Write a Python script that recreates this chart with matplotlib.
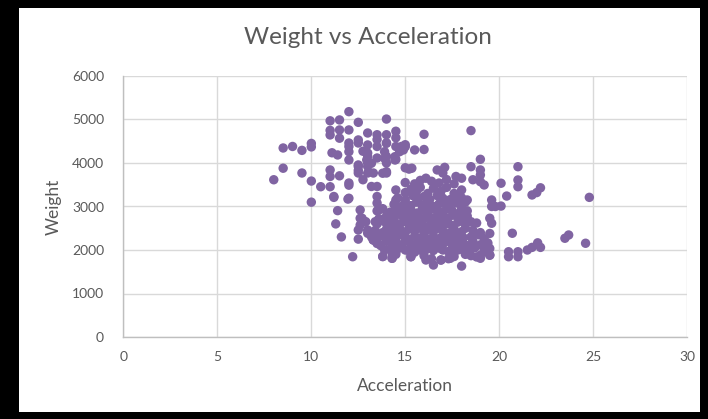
import matplotlib
matplotlib.use("Agg")
import matplotlib.pyplot as plt
from matplotlib.patches import Rectangle

# Outer / sparse points (acceleration, weight)
acc_outer = [8.0, 8.5, 8.5, 9.0, 9.5, 9.5, 10.0, 10.0, 10.0, 10.0, 10.5,
             11.0, 11.0, 11.0, 11.0, 11.0, 11.0, 11.1, 11.4, 11.2, 11.5, 11.5, 11.5, 11.5,
             11.4, 11.3, 11.6, 12.0, 12.0, 12.0, 12.0, 12.0, 12.0, 12.0, 12.0, 12.0, 12.2,
             12.5, 12.5, 12.5, 12.5, 12.5, 12.5, 12.6, 12.6, 12.5, 12.5, 12.75, 12.75,
             13.0, 13.0, 13.0, 13.0, 13.0, 13.0, 13.0, 13.2, 13.3, 12.9, 13.4, 13.0, 13.3,
             13.5, 13.5, 13.5, 13.5, 13.5, 13.5, 13.5, 13.6, 14.0, 14.0, 14.0, 14.0, 14.0,
             14.0, 13.8, 14.0, 14.3, 14.3, 14.5, 14.5, 14.5, 14.5, 14.5, 14.5, 14.8, 15.0,
             15.0, 15.2, 15.35, 15.5, 16.0, 16.0, 18.5, 18.5, 19.0, 16.7, 17.1, 17.0, 17.7,
             18.0, 18.6, 19.0, 19.0, 19.0, 19.2, 20.1, 20.4, 21.0, 21.0, 21.0, 21.75, 22.0,
             22.2, 24.8, 19.6, 19.6, 19.8, 20.1, 19.5, 19.6, 19.5, 20.7, 20.5, 20.5, 21.0,
             21.0, 21.5, 21.75, 22.05, 22.2, 23.5, 23.7, 24.6, 19.4, 19.5, 19.0, 18.0, 16.5,
             16.1, 16.9, 17.4, 15.3, 12.7, 12.6, 12.85, 13.2, 13.0, 13.9, 13.9, 14.45, 14.45,
             14.7, 14.9, 15.0, 13.8, 12.95, 13.2, 12.5, 11.95, 11.2, 14.0, 14.0]
w_outer = [3615, 3880, 4345, 4380, 4290, 3770, 4450, 4370, 3585, 3100, 3455,
           4970, 4750, 4645, 3840, 3690, 3455, 4235, 4185, 3230, 4990, 4760, 4570, 3705,
           2905, 2600, 2300, 5180, 4760, 4460, 4380, 4260, 4070, 3540, 3490, 3190, 1845,
           4935, 4530, 4460, 3920, 3830, 3770, 2920, 2730, 2460, 2250, 3615, 4270,
           4690, 4415, 4230, 4150, 4000, 3920, 3770, 3460, 3770, 2650, 2650, 2460, 2230,
           4650, 4540, 4380, 4115, 3460, 3230, 3080, 2920, 5010, 4650, 4460, 4150, 4000,
           3770, 1850, 2230, 1920, 1810, 4730, 4580, 4380, 4080, 3380, 3150, 4380, 4420,
           3890, 3860, 3880, 4300, 4310, 4660, 4745, 3915, 4085, 3840, 3900, 3770, 3690,
           3650, 3615, 3840, 3725, 3570, 3495, 3535, 3240, 3915, 3610, 3455, 3265, 3320,
           3430, 3210, 3150, 3000, 3000, 3010, 2730, 2615, 2380, 2385, 1960, 1845, 1960,
           1845, 2000, 2060, 2165, 2060, 2270, 2345, 2155, 2075, 1885, 1810, 1630, 1655,
           1770, 1770, 1810, 1846, 2730, 2575, 2650, 2305, 2385, 4260, 4105, 4145, 4070,
           4260, 4300, 4375, 3765, 4070, 3995, 3955, 3170, 3210, 3800, 4455]

# Dense core points (acceleration, weight)
acc_core = [13.8, 14.3, 14.5, 15.3, 15.5, 16.0, 16.4, 16.9, 17.3, 17.6, 18.2, 18.5, 18.8, 19.0, 19.5,
            13.9, 14.2, 14.5, 14.7, 15.0, 15.2, 15.5, 15.8, 16.0, 16.2, 16.5, 16.8, 17.0, 17.3, 17.5, 17.8, 18.0, 18.4, 18.7, 19.2, 19.5,
            13.5, 13.7, 14.0, 14.3, 14.5, 14.8, 15.0, 15.3, 15.5, 15.7, 16.0, 16.2, 16.5, 16.7, 17.0, 17.2, 17.5, 17.7, 18.0, 18.3, 18.6, 19.0, 19.4,
            13.3, 13.6, 14.0, 14.2, 14.5, 14.7, 15.0, 15.2, 15.5, 15.8, 16.0, 16.3, 16.5, 16.8, 17.0, 17.3, 17.6, 17.8, 18.1, 18.5, 18.9, 19.2,
            13.4, 13.8, 14.0, 14.3, 14.5, 14.8, 15.0, 15.2, 15.5, 15.7, 16.0, 16.2, 16.5, 16.8, 17.0, 17.4, 17.6, 18.0, 18.2, 18.6, 19.0,
            13.5, 13.9, 14.2, 14.5, 14.7, 15.0, 15.3, 15.5, 15.8, 16.0, 16.4, 16.6, 16.9, 17.2, 17.5, 17.8, 18.2, 18.5, 18.8,
            13.6, 14.0, 14.3, 14.5, 14.9, 15.1, 15.4, 15.7, 16.0, 16.2, 16.5, 16.8, 17.0, 17.3, 17.6, 18.0, 18.3,
            13.5, 13.8, 14.2, 14.5, 14.8, 15.0, 15.3, 15.6, 15.9, 16.1, 16.4, 16.7, 17.0, 17.2, 17.5, 17.9, 18.0, 18.3,
            14.4, 14.8, 15.0, 15.3, 15.6, 15.9, 16.2, 16.5, 16.8, 17.0, 17.3, 17.7, 18.0, 18.2,
            14.6, 15.0, 15.4, 15.7, 16.0, 16.3, 16.7, 17.0, 17.4, 17.8, 18.0, 18.3,
            15.0, 15.3, 15.6, 15.8, 16.2, 16.5, 16.9, 17.2, 17.6, 18.0,
            15.0, 15.5, 15.8, 16.1, 16.4, 16.8, 17.2, 17.6]
w_core = [1850, 1810, 1900, 1846, 1950, 1870, 1800, 1770, 1800, 1850, 1900, 1870, 1840, 1880, 1880,
          2000, 2020, 1960, 2050, 2000, 1980, 2040, 2000, 1960, 2030, 1990, 2045, 2000, 1965, 2050, 2000, 2020, 1990, 2050, 1990, 2035,
          2150, 2100, 2200, 2130, 2180, 2120, 2200, 2140, 2100, 2190, 2130, 2200, 2110, 2170, 2130, 2200, 2120, 2190, 2150, 2100, 2200, 2120, 2160,
          2230, 2300, 2280, 2330, 2260, 2350, 2290, 2240, 2320, 2270, 2350, 2250, 2310, 2260, 2340, 2290, 2230, 2330, 2280, 2300, 2350, 2260,
          2450, 2400, 2480, 2420, 2500, 2440, 2400, 2490, 2430, 2500, 2410, 2470, 2420, 2500, 2440, 2400, 2480, 2420, 2500, 2450, 2400,
          2600, 2650, 2560, 2620, 2580, 2650, 2570, 2640, 2600, 2550, 2630, 2580, 2650, 2600, 2560, 2640, 2600, 2650, 2620,
          2720, 2780, 2700, 2800, 2740, 2790, 2710, 2780, 2720, 2800, 2740, 2710, 2790, 2740, 2800, 2720, 2780,
          2900, 2950, 2870, 2930, 2860, 2950, 2900, 2850, 2940, 2880, 2950, 2900, 2870, 2950, 2900, 2860, 2950, 2900,
          3050, 3000, 3080, 3020, 3100, 3030, 3080, 3000, 3060, 3100, 3030, 3080, 3020, 3100,
          3200, 3150, 3250, 3190, 3230, 3160, 3250, 3190, 3160, 3240, 3200, 3150,
          3320, 3400, 3350, 3440, 3300, 3420, 3350, 3440, 3300, 3380,
          3550, 3520, 3600, 3650, 3580, 3540, 3620, 3520]

acceleration = acc_outer + acc_core
weight = w_outer + w_core

x_ticks = [0, 5, 10, 15, 20, 25, 30]
y_ticks = [0, 1000, 2000, 3000, 4000, 5000, 6000]

plt.rcParams['font.family'] = ['Lato', 'DejaVu Sans']
fig = plt.figure(figsize=(7.08, 4.19), dpi=100, facecolor='black')
fig.patches.append(Rectangle((19/708, 7/419), (700-19)/708, (411-7)/419,
                             transform=fig.transFigure, facecolor='white',
                             edgecolor='none', zorder=-10))
ax = fig.add_axes([123.5/708, (419-337)/419, (687-123.5)/708, (337-76)/419])
ax.set_zorder(5)
ax.set_facecolor('white')
ax.scatter(acceleration, weight, s=46, color='#8064A2', edgecolors='none', zorder=3)
ax.set_xlim(0, 30)
ax.set_ylim(0, 6000)
ax.set_xticks(x_ticks)
ax.set_yticks(y_ticks)
ax.grid(True, color='#D9D9D9', linewidth=1.0, zorder=0)
ax.set_axisbelow(True)
for s in ['top', 'right']:
    ax.spines[s].set_visible(False)
for s in ['left', 'bottom']:
    ax.spines[s].set_color('#BFBFBF')
    ax.spines[s].set_linewidth(1.0)
ax.tick_params(length=0, labelsize=10, labelcolor='#595959')
ax.tick_params(axis='y', pad=14)
ax.tick_params(axis='x', pad=10)
ax.set_xlabel('Acceleration', fontsize=12.5, color='#595959', labelpad=11)
ax.set_ylabel('Weight', fontsize=12.5, color='#595959', labelpad=7)
fig.text(368/708, 1 - 37/419, 'Weight vs Acceleration', ha='center', va='center',
         fontsize=17.5, color='#595959')
fig.savefig('out.png', dpi=100, facecolor='black')
